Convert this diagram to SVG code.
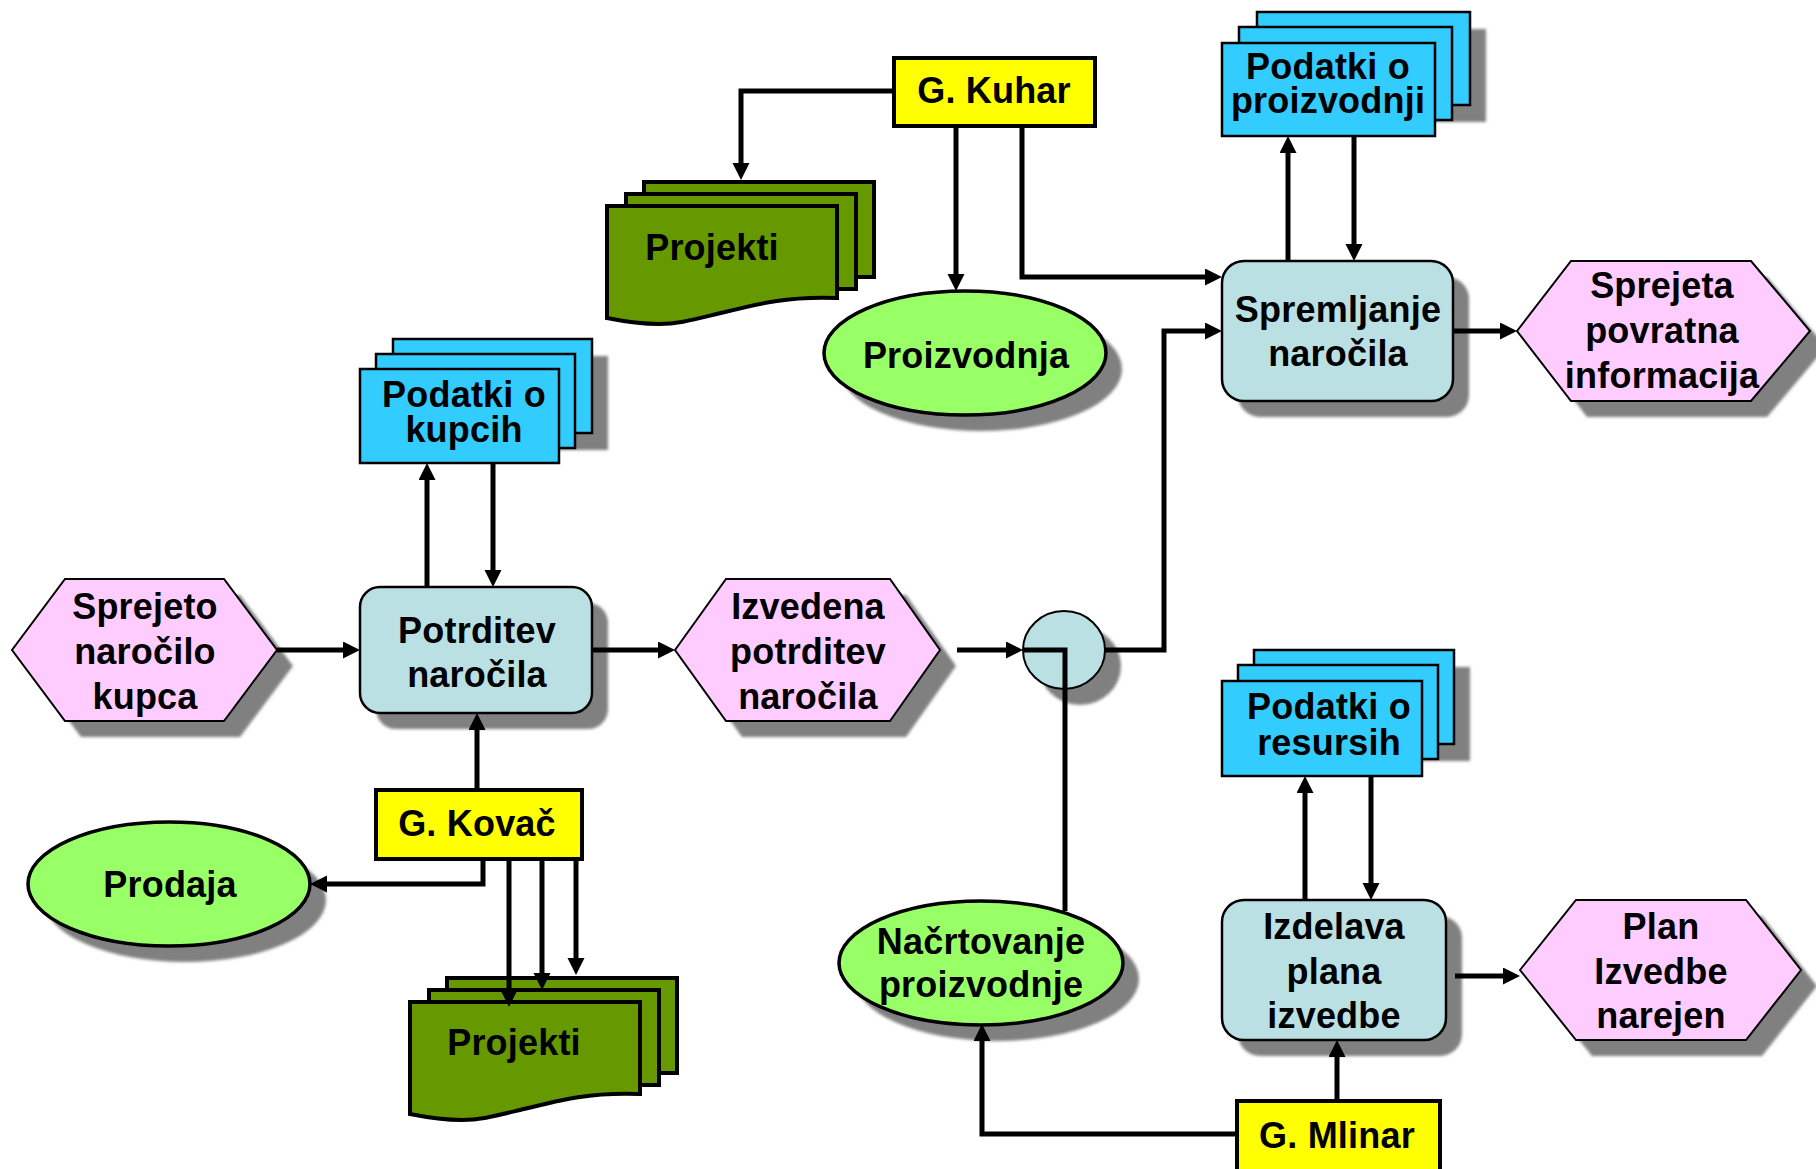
<svg xmlns="http://www.w3.org/2000/svg" width="1816" height="1169" viewBox="0 0 1816 1169">
  <defs>
    <style>
      .lbl { font-family: "Liberation Sans", Arial, sans-serif; font-weight: bold; font-size: 36px; letter-spacing: 0.2px; text-anchor: middle; fill: #000; }
      .shadow { fill: #808080; filter: url(#soft); }
      .event { fill: #FFCCFF; stroke: #000; stroke-width: 2; stroke-linejoin: miter; }
      .func { fill: #BBE0E3; stroke: #000; stroke-width: 2.5; }
      .data { fill: #33CCFF; stroke: #000; stroke-width: 2.5; }
      .unit { fill: #99FF66; stroke: #000; stroke-width: 3.5; }
      .doc { fill: #669900; stroke: #000; stroke-width: 4; stroke-linejoin: miter; }
      .person { fill: #FFFF00; stroke: #000; stroke-width: 4; }
      .join { fill: #BBE0E3; stroke: #000; stroke-width: 2; }
      .conn { fill: none; stroke: #000; stroke-width: 5; marker-end: url(#arrow); }
      .plain { fill: none; stroke: #000; stroke-width: 5; }
    </style>
    <filter id="soft" x="-10%" y="-10%" width="120%" height="120%">
      <feGaussianBlur stdDeviation="1.6"/>
    </filter>
    <marker id="arrow" markerUnits="userSpaceOnUse" markerWidth="18" markerHeight="18" refX="7" refY="8.5" orient="auto">
      <path d="M0,0 L17,8.5 L0,17 Z" fill="#000"/>
    </marker>
    <!-- document stack (Projekti), origin at front sheet top-left -->
    <g id="docstack">
      <rect x="37" y="-24" width="230" height="95" class="doc"/>
      <rect x="19" y="-12" width="230" height="95" class="doc"/>
      <path d="M0,0 H230 V92 C180,90 150,98 110,108 C85,114 70,118 52,118 C30,118 15,115 0,112 Z" class="doc"/>
    </g>
  </defs>

  <rect width="1816" height="1169" fill="#fff"/>

  <!-- events -->
  <g id="sprejeto-narocilo">
    <polygon class="shadow" points="28,666 81,595 240,595 293,666 240,737 81,737"/>
    <polygon class="event" points="12,650 65,579 224,579 277,650 224,721 65,721"/>
    <text class="lbl" x="145" y="619">Sprejeto</text>
    <text class="lbl" x="145" y="664">naročilo</text>
    <text class="lbl" x="145" y="709">kupca</text>
  </g>

  <g id="izvedena-potrditev">
    <polygon class="shadow" points="691,666 742,595 906,595 956,666 906,737 742,737"/>
    <polygon class="event" points="675,650 726,579 890,579 940,650 890,721 726,721"/>
    <text class="lbl" x="808" y="619">Izvedena</text>
    <text class="lbl" x="808" y="664">potrditev</text>
    <text class="lbl" x="808" y="709">naročila</text>
  </g>

  <g id="sprejeta-povratna">
    <polygon class="shadow" points="1533,347 1587,277 1767,277 1826,347 1767,417 1587,417"/>
    <polygon class="event" points="1517,331 1571,261 1751,261 1810,331 1751,401 1571,401"/>
    <text class="lbl" x="1662" y="298">Sprejeta</text>
    <text class="lbl" x="1662" y="343">povratna</text>
    <text class="lbl" x="1662" y="388">informacija</text>
  </g>

  <g id="plan-izvedbe">
    <polygon class="shadow" points="1536,986 1592,916 1762,916 1817,986 1762,1056 1592,1056"/>
    <polygon class="event" points="1520,970 1576,900 1746,900 1801,970 1746,1040 1576,1040"/>
    <text class="lbl" x="1661" y="939">Plan</text>
    <text class="lbl" x="1661" y="984">Izvedbe</text>
    <text class="lbl" x="1661" y="1028">narejen</text>
  </g>

  <!-- functions -->
  <g id="potrditev-narocila">
    <rect class="shadow" x="376" y="603" width="232" height="126" rx="20"/>
    <rect class="func" x="360" y="587" width="232" height="126" rx="20"/>
    <text class="lbl" x="477" y="643">Potrditev</text>
    <text class="lbl" x="477" y="687">naročila</text>
  </g>

  <g id="spremljanje-narocila">
    <rect class="shadow" x="1238" y="277" width="231" height="140" rx="22"/>
    <rect class="func" x="1222" y="261" width="231" height="140" rx="22"/>
    <text class="lbl" x="1338" y="322">Spremljanje</text>
    <text class="lbl" x="1338" y="366">naročila</text>
  </g>

  <g id="izdelava-plana">
    <rect class="shadow" x="1238" y="916" width="224" height="140" rx="22"/>
    <rect class="func" x="1222" y="900" width="224" height="140" rx="22"/>
    <text class="lbl" x="1334" y="939">Izdelava</text>
    <text class="lbl" x="1334" y="984">plana</text>
    <text class="lbl" x="1334" y="1028">izvedbe</text>
  </g>

  <!-- data stores -->
  <g id="podatki-kupci">
    <rect class="shadow" x="409" y="356" width="199" height="94"/>
    <rect class="data" x="393" y="339" width="199" height="94"/>
    <rect class="data" x="376" y="354" width="199" height="94"/>
    <rect class="data" x="360" y="369" width="199" height="94"/>
    <text class="lbl" x="464" y="407">Podatki o</text>
    <text class="lbl" x="464" y="442">kupcih</text>
  </g>

  <g id="podatki-proizvodnja">
    <rect class="shadow" x="1273" y="29" width="213" height="93"/>
    <rect class="data" x="1257" y="12" width="213" height="93"/>
    <rect class="data" x="1239" y="27" width="213" height="93"/>
    <rect class="data" x="1222" y="43" width="213" height="93"/>
    <text class="lbl" x="1328" y="79">Podatki o</text>
    <text class="lbl" x="1328" y="113">proizvodnji</text>
  </g>

  <g id="podatki-resursi">
    <rect class="shadow" x="1270" y="667" width="200" height="94"/>
    <rect class="data" x="1254" y="650" width="200" height="94"/>
    <rect class="data" x="1238" y="665" width="200" height="94"/>
    <rect class="data" x="1222" y="681" width="200" height="95"/>
    <text class="lbl" x="1329" y="719">Podatki o</text>
    <text class="lbl" x="1329" y="755">resursih</text>
  </g>

  <!-- organisational units -->
  <g id="proizvodnja">
    <ellipse class="shadow" cx="981" cy="369" rx="141" ry="62"/>
    <ellipse class="unit" cx="965" cy="353" rx="141" ry="62"/>
    <text class="lbl" x="966" y="368">Proizvodnja</text>
  </g>

  <g id="prodaja">
    <ellipse class="shadow" cx="185" cy="900" rx="141" ry="62"/>
    <ellipse class="unit" cx="169" cy="884" rx="141" ry="62"/>
    <text class="lbl" x="170" y="897">Prodaja</text>
  </g>

  <g id="nacrtovanje">
    <ellipse class="shadow" cx="997" cy="979" rx="142" ry="62"/>
    <ellipse class="unit" cx="981" cy="963" rx="142" ry="62"/>
    <text class="lbl" x="981" y="954">Načrtovanje</text>
    <text class="lbl" x="981" y="997">proizvodnje</text>
  </g>

  <!-- join -->
  <g id="join">
    <ellipse class="shadow" cx="1080" cy="666" rx="41" ry="39"/>
    <ellipse class="join" cx="1064" cy="650" rx="41" ry="39"/>
  </g>

  <!-- documents -->
  <g id="projekti-zgoraj">
    <use href="#docstack" x="607" y="206"/>
    <text class="lbl" x="712" y="260">Projekti</text>
  </g>

  <g id="projekti-spodaj">
    <use href="#docstack" x="410" y="1002"/>
    <text class="lbl" x="514" y="1055">Projekti</text>
  </g>

  <!-- persons -->
  <g id="g-kuhar">
    <rect class="person" x="894" y="58" width="201" height="68"/>
    <text class="lbl" x="994" y="103">G. Kuhar</text>
  </g>

  <g id="g-kovac">
    <rect class="person" x="376" y="790" width="206" height="69"/>
    <text class="lbl" x="477" y="836">G. Kovač</text>
  </g>

  <g id="g-mlinar">
    <rect class="person" x="1237" y="1101" width="203" height="80"/>
    <text class="lbl" x="1337" y="1148">G. Mlinar</text>
  </g>

  <!-- connectors -->
  <g id="connectors">
    <path class="conn" d="M277,650 H350"/>
    <path class="conn" d="M592,650 H665"/>
    <path class="conn" d="M427,587 V473"/>
    <path class="conn" d="M493,463 V577"/>
    <path class="conn" d="M477,790 V723"/>
    <path class="conn" d="M483,859 V884 H320"/>
    <path class="conn" d="M509,857 V997"/>
    <path class="conn" d="M542,857 V980"/>
    <path class="conn" d="M576,857 V965"/>
    <path class="conn" d="M957,650 H1013"/>
    <path class="plain" d="M1065,911 V650 H1023"/>
    <path class="conn" d="M1104,650 H1164 V331 H1212"/>
    <path class="conn" d="M894,91 H741 V170"/>
    <path class="conn" d="M956,126 V281"/>
    <path class="conn" d="M1022,126 V277 H1212"/>
    <path class="conn" d="M1288,261 V146"/>
    <path class="conn" d="M1354,136 V251"/>
    <path class="conn" d="M1453,331 H1507"/>
    <path class="conn" d="M1305,900 V786"/>
    <path class="conn" d="M1371,776 V890"/>
    <path class="conn" d="M1455,976 H1510"/>
    <path class="conn" d="M1337,1101 V1050"/>
    <path class="conn" d="M1237,1134 H982 V1034"/>
  </g>
</svg>
